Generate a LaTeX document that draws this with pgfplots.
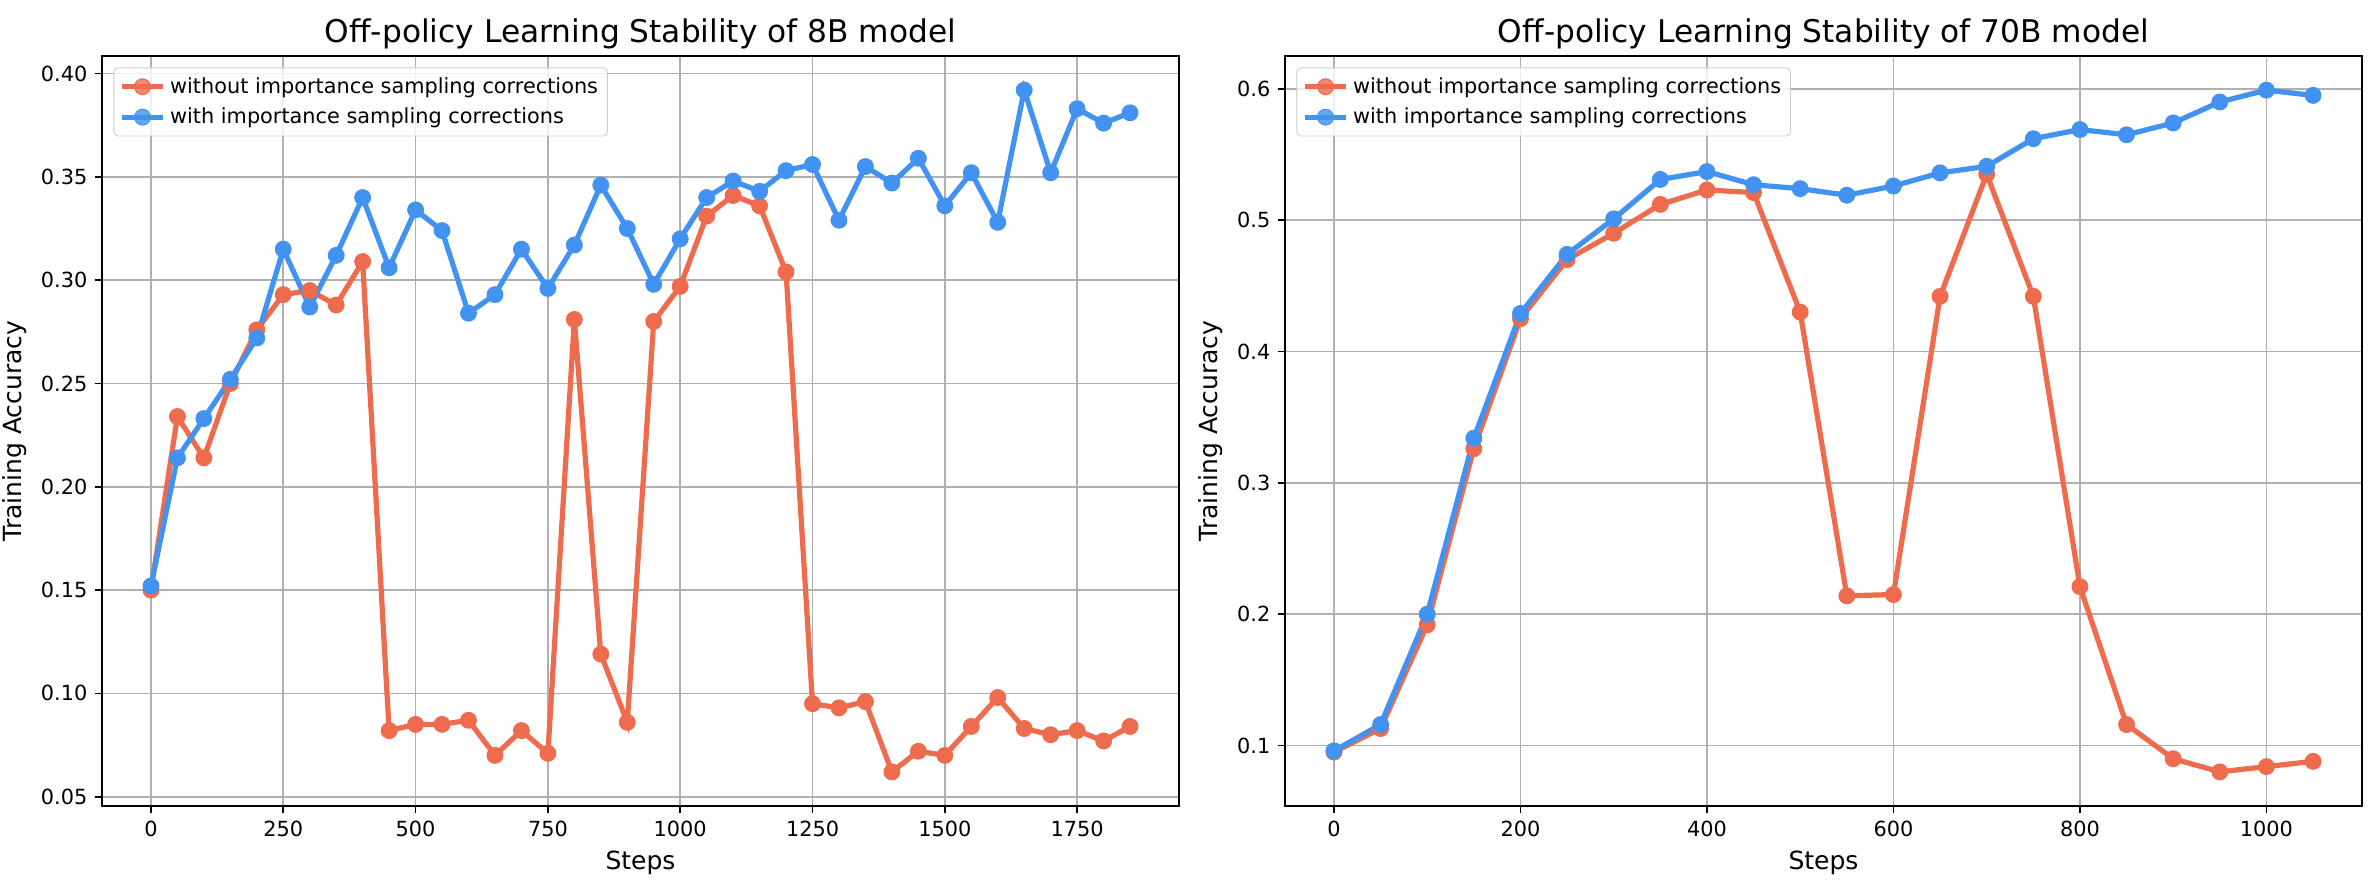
\documentclass[border=0pt]{standalone}
\usepackage{fontspec}
\setmainfont{DejaVu Sans}
\usepackage{pgfplots}
\usepackage{pgfplotstable}
\pgfplotsset{compat=1.18}

\definecolor{noIS}{RGB}{238,108,77}
\definecolor{withIS}{RGB}{66,146,241}

% steps, without IS correction, with IS correction
\pgfplotstableread{
step noIS  withIS
0    0.150 0.152
50   0.234 0.214
100  0.214 0.233
150  0.250 0.252
200  0.276 0.272
250  0.293 0.315
300  0.295 0.287
350  0.288 0.312
400  0.309 0.340
450  0.082 0.306
500  0.085 0.334
550  0.085 0.324
600  0.087 0.284
650  0.070 0.293
700  0.082 0.315
750  0.071 0.296
800  0.281 0.317
850  0.119 0.346
900  0.086 0.325
950  0.280 0.298
1000 0.297 0.320
1050 0.331 0.340
1100 0.341 0.348
1150 0.336 0.343
1200 0.304 0.353
1250 0.095 0.356
1300 0.093 0.329
1350 0.096 0.355
1400 0.062 0.347
1450 0.072 0.359
1500 0.070 0.336
1550 0.084 0.352
1600 0.098 0.328
1650 0.083 0.392
1700 0.080 0.352
1750 0.082 0.383
1800 0.077 0.376
1850 0.084 0.381
}\eightb

\pgfplotstableread{
step noIS  withIS
0    0.095 0.096
50   0.113 0.116
100  0.192 0.200
150  0.326 0.334
200  0.425 0.429
250  0.470 0.474
300  0.490 0.501
350  0.512 0.531
400  0.523 0.537
450  0.521 0.527
500  0.430 0.524
550  0.214 0.519
600  0.215 0.526
650  0.442 0.536
700  0.535 0.541
750  0.442 0.562
800  0.221 0.569
850  0.116 0.565
900  0.090 0.574
950  0.080 0.590
1000 0.084 0.599
1050 0.088 0.595
}\seventyb

\pgfplotsset{
  stab/.style={
    scale only axis, anchor=south west,
    width=516.96pt, height=360pt,
    axis line style={line width=0.8pt},
    grid=major, grid style={color=black!31, line width=0.8pt},
    tick align=outside, xtick pos=bottom, ytick pos=left,
    major tick length=3.5pt,
    tick style={black, line width=0.8pt},
    ticklabel style={font=\fontsize{10}{12}\selectfont},
    /pgf/number format/assume math mode=true,
    /pgf/number format/1000 sep={},
    xlabel={Steps}, ylabel={Training Accuracy},
    label style={font=\fontsize{12}{14}\selectfont},
    title style={at={(0.5,1)}, anchor=base, yshift=0.5pt,
      font=\fontsize{15}{18}\selectfont},
    legend cell align=left,
    legend style={at={(0,1)}, anchor=north west, xshift=5.5pt, yshift=-5.5pt,
      draw=black!20, fill=white, fill opacity=0.8, text opacity=1,
      rounded corners=2pt, font=\fontsize{10}{12}\selectfont,
      row sep=1.5pt, inner sep=2.5pt},
    legend image code/.code={%
      \draw[mark repeat=2,mark phase=2] plot coordinates {(0pt,0pt) (10pt,0pt) (20pt,0pt)};},
    every axis plot/.append style={line width=2.5pt, mark=*, mark size=3.8pt,
      mark options={line width=0.5pt}},
  }
}

\begin{document}
\begin{tikzpicture}
\path[use as bounding box] (0,0) rectangle (1140.48pt,426.24pt);

\begin{axis}[stab, at={(48.96pt,39.36pt)},
  title={Off-policy Learning Stability of 8B model},
  xmin=-92.5, xmax=1942.5, ymin=0.0455, ymax=0.4085,
  xtick={0,250,...,1750},
  ytick={0.05,0.10,...,0.41},
  yticklabel style={/pgf/number format/.cd, fixed, fixed zerofill, precision=2},
]
\addplot[color=noIS] table[x=step, y=noIS] {\eightb};
\addlegendentry{without importance sampling corrections}
\addplot[color=withIS] table[x=step, y=withIS] {\eightb};
\addlegendentry{with importance sampling corrections}
\end{axis}

\begin{axis}[stab, at={(616.8pt,39.36pt)},
  title={Off-policy Learning Stability of 70B model},
  xmin=-52.5, xmax=1102.5, ymin=0.054, ymax=0.625,
  xtick={0,200,...,1000},
  ytick={0.1,0.2,...,0.61},
  yticklabel style={/pgf/number format/.cd, fixed, fixed zerofill, precision=1},
]
\addplot[color=noIS] table[x=step, y=noIS] {\seventyb};
\addlegendentry{without importance sampling corrections}
\addplot[color=withIS] table[x=step, y=withIS] {\seventyb};
\addlegendentry{with importance sampling corrections}
\end{axis}
\end{tikzpicture}
\end{document}
